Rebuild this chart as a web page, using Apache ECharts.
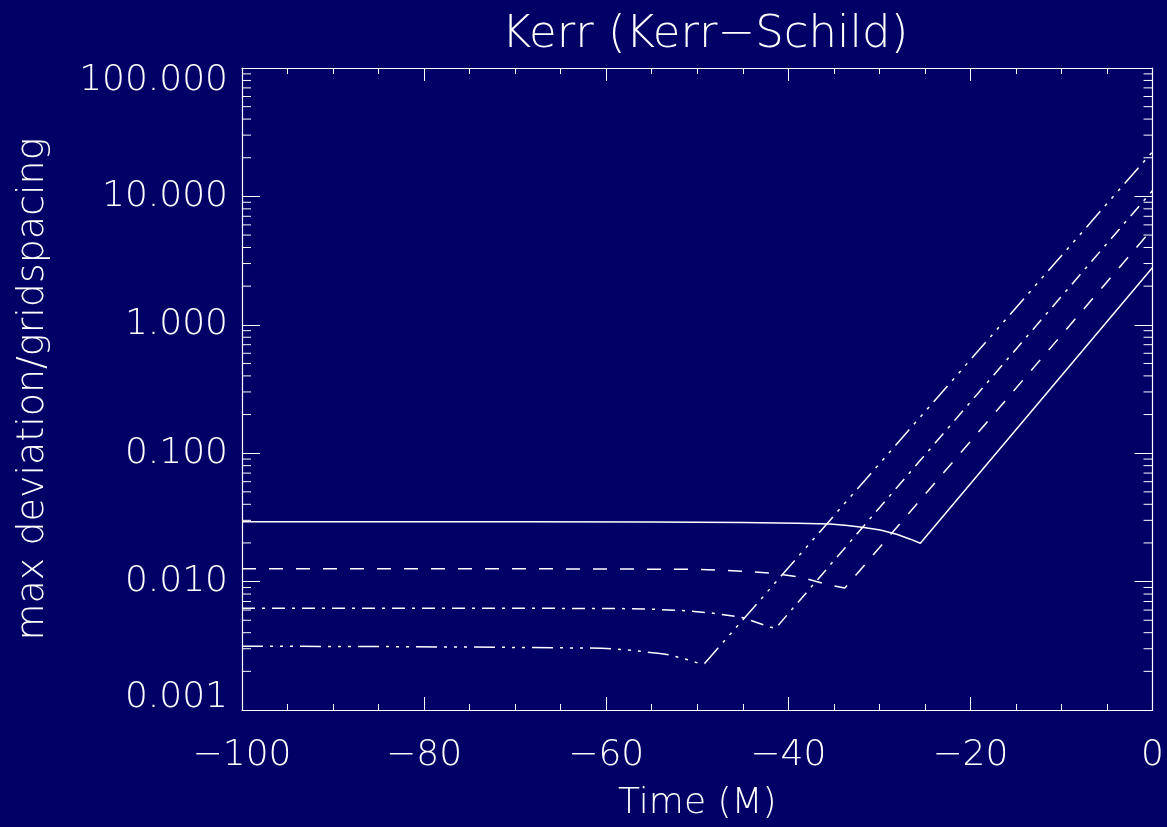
<!DOCTYPE html>
<html>
<head>
<meta charset="utf-8">
<script src="https://cdn.jsdelivr.net/npm/echarts@6/dist/echarts.min.js"></script>
<style>
  html, body { margin: 0; padding: 0; background: #000066; }
  #chart { width: 1167px; height: 827px; }
</style>
</head>
<body>
<div id="chart"></div>
<script>
// time (M) and max deviation/gridspacing, one pair of arrays per curve
const tSolid = [-100, -70, -55, -45, -39, -35.4, -33.5, -31.7, -29.9, -28.1, -26.6, -25.5, 0]
const vSolid = [0.0293, 0.0292, 0.0291, 0.0289, 0.0285, 0.0281, 0.0274, 0.0264, 0.0252, 0.0234, 0.0214, 0.0199, 2.79]

const tDash = [-100, -70, -50.4, -47.4, -44.5, -41.5, -38.6, -35.7, -33.8, 0]
const vDash = [0.0126, 0.0126, 0.01247, 0.01225, 0.0120, 0.0116, 0.0108, 0.0095, 0.0089, 5.6]

const tDashDot = [-100, -70, -58.5, -55.1, -51.8, -48.4, -45.1, -42, -41.4, 0]
const vDashDot = [0.0062, 0.0062, 0.00617, 0.0061, 0.00596, 0.0057, 0.00526, 0.00443, 0.00432, 11.1]

const tDash3Dot = [-100, -85, -75, -65, -60.5, -57.2, -54.1, -53, -51, -49.9, -49.2, 0]
const vDash3Dot = [0.00314, 0.00312, 0.00309, 0.00305, 0.00303, 0.00292, 0.00275, 0.00268, 0.00246, 0.00232, 0.0023, 22.3]

// minor ticks of the log axis (2..9 in each decade)
const logMinor = []
for (const d of [0.001, 0.01, 0.1, 1, 10]) {
  for (let k = 2; k <= 9; k++) logMinor.push(+(d * k).toPrecision(3))
}

const fg = '#ffffff'
const font = 'DejaVu Sans'

const pairs = (t, v) => t.map((x, i) => [x, v[i]])

const lineSeries = (name, t, v, dash) => ({
  name,
  type: 'line',
  data: pairs(t, v),
  showSymbol: false,
  symbol: 'none',
  smooth: false,
  silent: true,
  lineStyle: { color: fg, width: 1.5, type: dash },
  xAxisIndex: 0,
  yAxisIndex: 0,
  z: 3
})

const xAxisBase = {
  type: 'value',
  min: -100,
  max: 0,
  interval: 20,
  axisLine: { show: true, onZero: false, lineStyle: { color: fg, width: 1.2 } },
  axisTick: { show: true, inside: true, length: 13, lineStyle: { color: fg } },
  minorTick: { show: true, splitNumber: 4, length: 6, lineStyle: { color: fg } },
  splitLine: { show: false },
  minorSplitLine: { show: false }
}

const yAxisBase = {
  type: 'log',
  logBase: 10,
  min: 0.001,
  max: 100,
  axisLine: { show: true, onZero: false, lineStyle: { color: fg, width: 1.2 } },
  axisTick: { show: true, inside: true, length: 18, lineStyle: { color: fg } },
  minorTick: { show: false },
  splitLine: { show: false }
}

const labelText = { color: fg, fontFamily: font, fontWeight: 200, fontSize: 36 }

const chart = echarts.init(document.getElementById('chart'))

chart.setOption({
  backgroundColor: '#000066',
  animation: false,
  title: {
    text: 'Kerr (Kerr\u2212Schild)',
    left: 700,
    top: 8,
    textAlign: 'center',
    textStyle: { color: fg, fontFamily: font, fontWeight: 200, fontSize: 45 }
  },
  grid: { left: 242, right: 10, top: 68, bottom: 110 },
  xAxis: [
    Object.assign({}, xAxisBase, {
      position: 'bottom',
      name: 'Time (M)',
      nameLocation: 'middle',
      nameGap: 76,
      nameTextStyle: labelText,
      axisLabel: Object.assign({}, labelText, {
        margin: 28,
        formatter: v => (v < 0 ? '\u2212' + Math.abs(v) : String(v))
      })
    }),
    Object.assign({}, xAxisBase, { position: 'top', axisLabel: { show: false } })
  ],
  yAxis: [
    Object.assign({}, yAxisBase, {
      position: 'left',
      name: 'max deviation/gridspacing',
      nameLocation: 'middle',
      nameRotate: 90,
      nameGap: 190,
      nameTextStyle: Object.assign({}, labelText, { fontSize: 38 }),
      axisLabel: Object.assign({}, labelText, {
        margin: 14,
        // end labels sit inside the frame, like the original plot
        formatter: v => {
          const s = v.toFixed(3)
          if (v > 50) return '{top|' + s + '}'
          if (v < 0.002) return '{bot|' + s + '}'
          return s
        },
        rich: {
          top: Object.assign({}, labelText, { padding: [25, 0, 0, 0] }),
          bot: Object.assign({}, labelText, { padding: [0, 0, 25, 0] })
        }
      })
    }),
    Object.assign({}, yAxisBase, { position: 'right', axisLabel: { show: false } })
  ],
  series: [
    lineSeries('solid', tSolid, vSolid, 'solid'),
    lineSeries('dashed', tDash, vDash, [14, 13]),
    lineSeries('dashdot', tDashDot, vDashDot, [13, 7, 3, 7]),
    lineSeries('dash3dot', tDash3Dot, vDash3Dot, [21, 7, 3, 7, 3, 7, 3, 7]),
    {
      // log minor ticks on left and right frame, placed through the axes
      type: 'custom',
      silent: true,
      xAxisIndex: 0,
      yAxisIndex: 0,
      data: logMinor.map(v => [-100, v]),
      renderItem: (params, api) => {
        const v = api.value(1)
        const l = api.coord([-100, v])
        const r = api.coord([0, v])
        const style = { stroke: fg, lineWidth: 1 }
        return {
          type: 'group',
          children: [
            { type: 'line', shape: { x1: l[0], y1: l[1], x2: l[0] + 9, y2: l[1] }, style },
            { type: 'line', shape: { x1: r[0], y1: r[1], x2: r[0] - 9, y2: r[1] }, style }
          ]
        }
      }
    }
  ]
})
</script>
</body>
</html>
